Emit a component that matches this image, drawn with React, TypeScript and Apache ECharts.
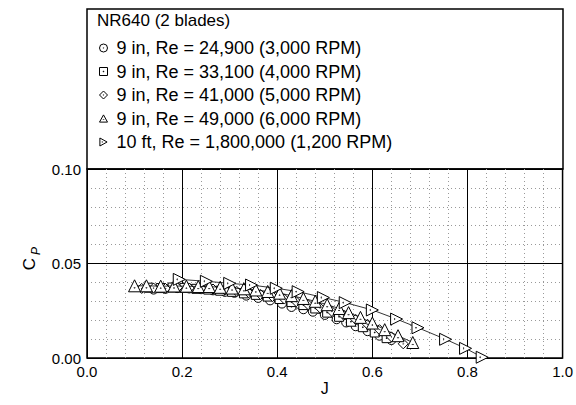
import React, { useEffect, useRef } from "react";
import * as echarts from "echarts";

const titleText = "NR640 (2 blades)";
const seriesNames = [
  "9 in, Re = 24,900 (3,000 RPM)",
  "9 in, Re = 33,100 (4,000 RPM)",
  "9 in, Re = 41,000 (5,000 RPM)",
  "9 in, Re = 49,000 (6,000 RPM)",
  "10 ft, Re = 1,800,000 (1,200 RPM)",
];

const j3000 = [0.14, 0.165, 0.19, 0.215, 0.24, 0.265, 0.29, 0.31, 0.335, 0.36, 0.385, 0.41, 0.43, 0.455, 0.475, 0.5, 0.525, 0.545, 0.565, 0.59, 0.615, 0.64];
const cp3000 = [0.0362, 0.0366, 0.037, 0.0368, 0.0364, 0.0358, 0.035, 0.0345, 0.033, 0.0318, 0.0305, 0.0288, 0.027, 0.0258, 0.0245, 0.0228, 0.0205, 0.0188, 0.0168, 0.0142, 0.0118, 0.0095];

const j4000 = [0.13, 0.155, 0.18, 0.205, 0.23, 0.255, 0.28, 0.305, 0.33, 0.355, 0.38, 0.405, 0.43, 0.455, 0.48, 0.505, 0.53, 0.555, 0.58, 0.605, 0.63];
const cp4000 = [0.0372, 0.037, 0.0373, 0.0371, 0.0366, 0.0362, 0.0356, 0.035, 0.0342, 0.0334, 0.0325, 0.0312, 0.0296, 0.028, 0.0262, 0.024, 0.0218, 0.0192, 0.0163, 0.0135, 0.0105];

const j5000 = [0.115, 0.14, 0.165, 0.19, 0.215, 0.24, 0.265, 0.29, 0.315, 0.34, 0.365, 0.39, 0.415, 0.44, 0.465, 0.49, 0.515, 0.54, 0.565, 0.59, 0.615, 0.64, 0.665];
const cp5000 = [0.0368, 0.037, 0.0368, 0.0372, 0.037, 0.0368, 0.0365, 0.036, 0.0352, 0.0345, 0.0336, 0.0325, 0.0312, 0.0298, 0.0282, 0.0265, 0.0246, 0.0226, 0.0204, 0.0178, 0.015, 0.0112, 0.0075];

const j6000 = [0.1, 0.125, 0.155, 0.183, 0.209, 0.234, 0.257, 0.28, 0.305, 0.33, 0.355, 0.38, 0.405, 0.43, 0.455, 0.48, 0.505, 0.53, 0.55, 0.575, 0.6, 0.626, 0.654, 0.685];
const cp6000 = [0.0382, 0.0382, 0.038, 0.0381, 0.038, 0.0378, 0.0378, 0.0374, 0.037, 0.0366, 0.036, 0.0352, 0.0343, 0.033, 0.0315, 0.03, 0.0282, 0.0262, 0.024, 0.0215, 0.0185, 0.015, 0.0118, 0.0082];

const j10ft = [0.194, 0.251, 0.3, 0.346, 0.398, 0.444, 0.497, 0.543, 0.6, 0.651, 0.696, 0.754, 0.796, 0.831];
const cp10ft = [0.0416, 0.0406, 0.0395, 0.0386, 0.0369, 0.0351, 0.032, 0.0293, 0.0254, 0.0206, 0.016, 0.0099, 0.0051, 0.0004];

const xTicks = [0, 0.2, 0.4, 0.6, 0.8, 1.0];
const yTicks = [0, 0.05, 0.1];

const symCircle = "path://M10,5 A5,5 0 1 1 0,5 A5,5 0 1 1 10,5 Z M5,4.6 L5.4,5 L5,5.4 L4.6,5 Z";
const symSquare = "path://M0,0 L10,0 L10,10 L0,10 Z M4.6,4.6 L5.4,4.6 L5.4,5.4 L4.6,5.4 Z";
const symDiamond = "path://M5,0 L10,5 L5,10 L0,5 Z M5,4.6 L5.4,5 L5,5.4 L4.6,5 Z";
const symTriUp = "path://M5,0 L10,9 L0,9 Z M5,5.6 L5.4,6 L5,6.4 L4.6,6 Z";
const symTriRight = "path://M0,0 L9,5 L0,10 Z M3,4.6 L3.4,5 L3,5.4 L2.6,5 Z";

const FONT = "'Liberation Sans', Arial, Helvetica, sans-serif";

function zip(a: number[], b: number[]) {
  return a.map((v, i) => [v, b[i]]);
}

export default function App() {
  const ref = useRef<HTMLDivElement>(null);
  useEffect(() => {
    if (!ref.current) return;
    const chart = echarts.init(ref.current, undefined, { renderer: "svg" });
    const xs = [j3000, j4000, j5000, j6000, j10ft];
    const ys = [cp3000, cp4000, cp5000, cp6000, cp10ft];
    const syms = [symCircle, symSquare, symDiamond, symTriUp, symTriRight];
    const sizes = [9, 9, 10, 12, 12];
    const series = seriesNames.map((name, i) => ({
      name,
      type: "line",
      data: zip(xs[i], ys[i]),
      symbol: syms[i],
      symbolSize: sizes[i],
      showAllSymbol: true,
      itemStyle: { color: "#fff", borderColor: "#000", borderWidth: 1 },
      lineStyle: { color: "#000", width: 0.8 },
      z: 3 + i,
    }));
    chart.setOption({
      animation: false,
      backgroundColor: "#fff",
      textStyle: { fontFamily: FONT },
      title: {
        text: titleText,
        left: 97,
        top: 12,
        padding: 0,
        textStyle: { fontFamily: FONT, fontSize: 17, fontWeight: "normal", color: "#000" },
      },
      legend: {
        orient: "vertical",
        left: 99,
        top: 39,
        padding: 0,
        itemWidth: 8,
        itemHeight: 8,
        itemGap: 5.5,
        textStyle: { fontFamily: FONT, fontSize: 18, color: "#000", lineHeight: 18, padding: [0, 0, 0, 4] },
        data: seriesNames.map((n, i) => ({ name: n, icon: syms[i], itemStyle: { color: "#fff", borderColor: "#000", borderWidth: 1 } })),
        selectedMode: false,
      },
      grid: {
        left: 87,
        right: 13,
        top: 169,
        bottom: 47,
        show: true,
        borderColor: "#000",
        borderWidth: 1.5,
        backgroundColor: "#fff",
      },
      xAxis: {
        type: "value",
        min: 0,
        max: 1,
        interval: 0.2,
        name: "J",
        nameLocation: "middle",
        nameGap: 22,
        nameTextStyle: { fontFamily: FONT, fontSize: 16, color: "#000" },
        axisLine: { show: false },
        axisTick: { show: false },
        axisLabel: {
          color: "#000",
          fontSize: 15,
          fontFamily: FONT,
          margin: 6,
          formatter: (v: number) => (xTicks.some((t) => Math.abs(t - v) < 1e-9) ? v.toFixed(1) : ""),
        },
        splitLine: { show: true, lineStyle: { color: "#000", width: 1 } },
        minorTick: { show: false, splitNumber: 5 },
        minorSplitLine: { show: true, lineStyle: { color: "#999", width: 1, type: [1, 3] } },
      },
      yAxis: {
        type: "value",
        min: 0,
        max: 0.1,
        interval: 0.05,
        axisLine: { show: false },
        axisTick: { show: false },
        axisLabel: {
          color: "#000",
          fontSize: 15,
          fontFamily: FONT,
          margin: 6,
          formatter: (v: number) => (yTicks.some((t) => Math.abs(t - v) < 1e-9) ? v.toFixed(2) : ""),
        },
        splitLine: { show: true, lineStyle: { color: "#000", width: 1 } },
        minorTick: { show: false, splitNumber: 5 },
        minorSplitLine: { show: true, lineStyle: { color: "#999", width: 1, type: [1, 3] } },
      },
      graphic: [
        {
          type: "rect",
          shape: { x: 87, y: 9, width: 476, height: 160 },
          style: { fill: "#fff", stroke: "#000", lineWidth: 1.5 },
          z: -1,
          silent: true,
        },
        {
          type: "text",
          x: 29,
          y: 264,
          rotation: Math.PI / 2,
          style: { text: "C", font: "17px " + FONT, fill: "#000", align: "center", verticalAlign: "middle" },
        },
        {
          type: "text",
          x: 36,
          y: 251,
          rotation: Math.PI / 2,
          style: { text: "P", font: "italic 12px " + FONT, fill: "#000", align: "center", verticalAlign: "middle" },
        },
      ],
      series,
    });
    return () => chart.dispose();
  }, []);
  return <div ref={ref} style={{ position: "absolute", left: 0, top: 0, width: 576, height: 405 }} />;
}
